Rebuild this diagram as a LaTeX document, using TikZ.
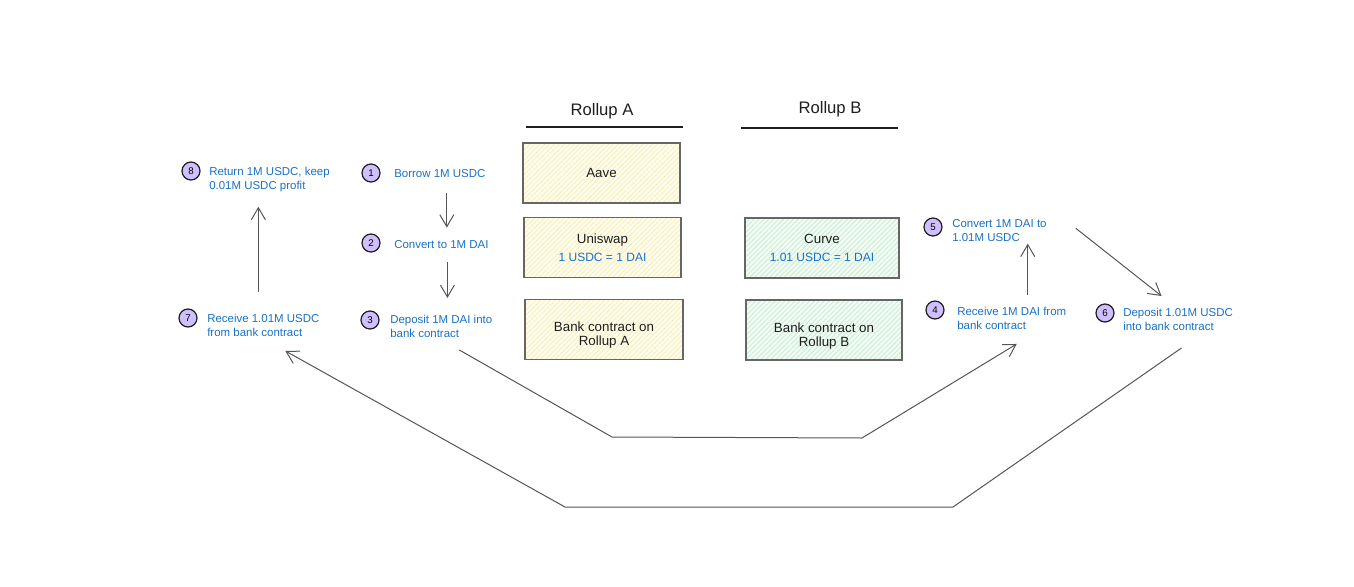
\documentclass[tikz,border=0pt]{standalone}
\usepackage{fontspec}
\setmainfont{Liberation Sans}
\usetikzlibrary{arrows.meta,patterns.meta,calc}
\definecolor{stepblue}{HTML}{1971C2}
\definecolor{inkdark}{HTML}{1E1E1E}
\definecolor{flowgray}{HTML}{555555}
\definecolor{badgefill}{HTML}{D0BFFF}
\definecolor{boxline}{HTML}{666666}
\definecolor{rollaback}{HTML}{FFFDEE}
\definecolor{rollahatch}{HTML}{FAEDB8}
\definecolor{rollbback}{HTML}{F2FBF4}
\definecolor{rollbhatch}{HTML}{C9EDD2}
\newcommand{\ratefont}{\fontsize{9}{10}\selectfont\color{stepblue}}
\newcommand{\lowerline}{\rule{0pt}{16pt}}
\tikzset{
  badge/.style={circle, draw=inkdark, line width=0.9pt, fill=badgefill, minimum size=13.5pt, inner sep=0pt, font=\fontsize{7.3}{8}\selectfont},
  steptext/.style={text=stepblue, align=left, inner sep=0pt, font=\fontsize{8.6}{10.5}\selectfont},
  flow/.style={draw=flowgray, line width=0.75pt, -{Straight Barb[length=9pt,width=10.5pt]}},
  header/.style={text=inkdark, inner sep=0pt, font=\fontsize{12.5}{14}\selectfont},
  rule/.style={draw=inkdark, line width=1.3pt},
  contract/.style={draw=boxline, line width=1.3pt, minimum width=118pt, minimum height=45pt, align=center, text=inkdark, font=\fontsize{10}{10.5}\selectfont},
  rollupa/.style={contract, preaction={fill=rollaback}, pattern={Lines[angle=45,distance=2.6pt,line width=0.6pt]}, pattern color=rollahatch},
  rollupb/.style={contract, preaction={fill=rollbback}, pattern={Lines[angle=45,distance=2.6pt,line width=0.6pt]}, pattern color=rollbhatch},
}
\begin{document}
\begin{tikzpicture}[x=0.75pt,y=-0.75pt]
\useasboundingbox (0,0) rectangle (1354,586);
%%% The two rollup columns
\node[header] (hA) at (602,111) {Rollup A};
\node[header] (hB) at (830,109) {Rollup B};
\draw[rule] (526,127) -- (683,127);
\draw[rule] (741,128) -- (898,128);
%%%%% The contracts deployed on each rollup
\node[rollupa, minimum width=117.75pt] (aave) at (601.5,173) {Aave};
\node[rollupa, minimum width=117.75pt] (uniswap) at (602.5,247.5) {Uniswap\\[3pt]{\ratefont 1 USDC = 1 DAI}};
\node[rollupa, minimum width=118.5pt] (banka) at (604,329.5) {\lowerline Bank contract on\\Rollup A};
\node[rollupb, minimum width=115.5pt] (curve) at (822,248) {Curve\\[3pt]{\ratefont 1.01 USDC = 1 DAI}};
\node[rollupb, minimum width=117pt] (bankb) at (824,330) {\lowerline Bank contract on\\Rollup B};
%%%%% The numbered steps
\node[badge] (n1) at (371,173) {1};
\node[badge] (n2) at (371,243) {2};
\node[badge] (n3) at (370,320) {3};
\node[badge] (n4) at (935,310) {4};
\node[badge] (n5) at (933,227) {5};
\node[badge] (n6) at (1105,313) {6};
\node[badge] (n7) at (188,318) {7};
\node[badge] (n8) at (191,171) {8};
%
\node[steptext, anchor=west] (l1) at (394,174) {Borrow 1M USDC};
\node[steptext, anchor=west] (l2) at (394,245) {Convert to 1M DAI};
\node[steptext, anchor=north west] (l3) at (390,315) {Deposit 1M DAI into\\bank contract};
\node[steptext, anchor=north west] (l4) at (957,307) {Receive 1M DAI from\\bank contract};
\node[steptext, anchor=north west] (l5) at (952,219) {Convert 1M DAI to\\1.01M USDC};
\node[steptext, anchor=north west] (l6) at (1123,308) {Deposit 1.01M USDC\\into bank contract};
\node[steptext, anchor=north west] (l7) at (207,314) {Receive 1.01M USDC\\from bank contract};
\node[steptext, anchor=north west] (l8) at (209,167) {Return 1M USDC, keep\\0.01M USDC profit};
%%%%% Bends of the two bridge transfers
\coordinate (down34) at (612,437);
\coordinate (up34) at (862,438);
\coordinate (down67) at (953,507);
\coordinate (up67) at (565,507);
%%%%% The flow between the steps on rollup A
\draw[flow] ($(l1.south)+(7,15)$) -- ($(l1.south |- l2.north)+(7,-13)$);
\draw[flow] ($(l2.south)+(6,13)$) -- ($(l2.south |- l3.north)+(6,-17)$);
%%%%% Bridge from rollup A to rollup B
\draw[flow] ($(l3.south)+(18,12)$) -- (down34) -- (up34) -- ($(l4.south)+(5,14)$);
%%%%% The flow between the steps on rollup B
\draw[flow] ($(l4.north)+(16,-12)$) -- ($(l4.north |- l5.south)+(16,2)$);
\draw[flow] ($(l5.east)+(29,-2)$) -- ($(l6.north)+(-16.5,-12)$);
%%%%% Bridge back from rollup B to rollup A
\draw[flow] ($(l6.south)+(3.5,17)$) -- (down67) -- (up67) -- ($(l7.south)+(22,14)$);
%%%%% Repay the loan
\draw[flow] ($(l7.north)+(-5,-22)$) -- ($(l7.north |- l8.south)+(-5,14.5)$);
\end{tikzpicture}
\end{document}
